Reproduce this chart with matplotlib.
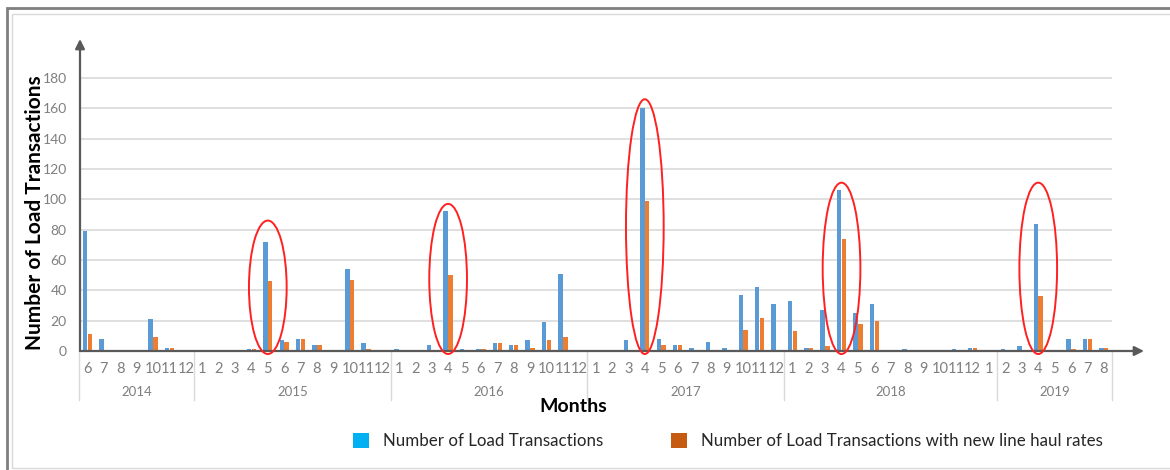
import matplotlib
matplotlib.use("Agg")
import matplotlib.pyplot as plt
from matplotlib.patches import Ellipse, Patch, Rectangle
import matplotlib.transforms as mtransforms
import numpy as np

# Monthly load counts, grouped by year
years = ["2014", "2015", "2016", "2017", "2018", "2019"]
year_months = [
    [6, 7, 8, 9, 10, 11, 12],
    [1, 2, 3, 4, 5, 6, 7, 8, 9, 10, 11, 12],
    [1, 2, 3, 4, 5, 6, 7, 8, 9, 10, 11, 12],
    [1, 2, 3, 4, 5, 6, 7, 8, 9, 10, 11, 12],
    [1, 2, 3, 4, 5, 6, 7, 8, 9, 10, 11, 12, 1],
    [2, 3, 4, 5, 6, 7, 8],
]
loads = [
    79, 8, 0, 0, 21, 2, 0,
    0, 0, 0, 1, 72, 7, 8, 4, 0, 54, 5, 0,
    1, 0, 4, 92, 1, 1, 5, 4, 7, 19, 51, 0,
    0, 0, 7, 160, 8, 4, 2, 6, 2, 37, 42, 31,
    33, 2, 27, 106, 25, 31, 0, 1, 0, 0, 1, 2, 0,
    1, 3, 84, 0, 8, 8, 2,
]
new_rates = [
    11, 0, 0, 0, 9, 2, 0,
    0, 0, 0, 1, 46, 6, 8, 4, 0, 47, 1, 0,
    0, 0, 0, 50, 0, 1, 5, 4, 2, 7, 9, 0,
    0, 0, 0, 99, 4, 4, 0, 0, 0, 14, 22, 0,
    13, 2, 3, 74, 18, 20, 0, 0, 0, 0, 0, 2, 0,
    0, 0, 36, 0, 1, 8, 2,
]
# highlighted months (year, month) and the top of each ring
highlights = [("2015", 5), ("2016", 4), ("2017", 4), ("2018", 4), ("2019", 4)]
ring_tops = [86, 97, 166, 111, 111]

W, H = 1170, 470
BLUE, ORANGE = "#5B9BD5", "#ED7D31"
GRAY = "#7F7F7F"
FONT = ["Lato", "DejaVu Sans"]
plt.rcParams["font.family"] = FONT

month_labels = [str(m) for grp in year_months for m in grp]
x = np.arange(len(month_labels))

fig = plt.figure(figsize=(W / 100, H / 100), dpi=100)
ax_left, ax_right = 79.3, 1112
ax_bottom, ax_top = 351, 351 - 200 * (273 / 180)
ax = fig.add_axes([ax_left / W, 1 - ax_bottom / H,
                   (ax_right - ax_left) / W, (ax_bottom - ax_top) / H])

bw = 0.27
ax.bar(x - 0.15, loads, width=bw, color=BLUE, zorder=3)
ax.bar(x + 0.15, new_rates, width=bw, color=ORANGE, zorder=3)

ax.set_xlim(-0.5, len(x) - 0.5)
ax.set_ylim(0, 200)
ax.set_yticks(range(0, 181, 20))
ax.yaxis.grid(True, color="#D9D9D9", linewidth=1.2, zorder=0)
ax.set_axisbelow(True)
for s in ax.spines.values():
    s.set_visible(False)
ax.tick_params(axis="y", length=0, pad=9, labelsize=10, labelcolor=GRAY)
ax.set_xticks(x)
ax.set_xticklabels(month_labels)
ax.tick_params(axis="x", length=0, pad=8, labelsize=10.5, labelcolor=GRAY)

# year grouping row with separators
ax_h = ax_bottom - ax_top
trans = mtransforms.blended_transform_factory(ax.transData, ax.transAxes)
start = 0
bounds = [-0.5]
for yr, grp in zip(years, year_months):
    end = start + len(grp)
    ax.text((start + end - 1) / 2, -41 / ax_h, yr, transform=trans,
            ha="center", va="center", fontsize=9.5, color=GRAY)
    bounds.append(end - 0.5)
    start = end
for b in bounds:
    ax.plot([b, b], [0, -49 / ax_h], transform=trans, color="#D9D9D9",
            linewidth=1, clip_on=False)

# red rings around the peak months
offsets = np.cumsum([0] + [len(g) for g in year_months])
for (yr, mo), top in zip(highlights, ring_tops):
    gi = years.index(yr)
    idx = offsets[gi] + year_months[gi].index(mo)
    ax.add_patch(Ellipse((idx, (top - 2) / 2), width=2.3, height=top + 2,
                         fill=False, edgecolor="#FF2020", linewidth=1.4,
                         zorder=4, clip_on=False))

# axis arrows
arrow = dict(arrowstyle="-|>", color="#595959", lw=1.6, mutation_scale=14,
             shrinkA=0, shrinkB=0)
ax.annotate("", xy=(80 / W, 1 - 39 / H), xytext=(80 / W, 1 - 351 / H),
            xycoords="figure fraction", arrowprops=arrow, annotation_clip=False)
ax.annotate("", xy=(1144 / W, 1 - 351 / H), xytext=(80 / W, 1 - 351 / H),
            xycoords="figure fraction", arrowprops=arrow, annotation_clip=False)

fig.text(35 / W, 1 - 213 / H, "Number of Load Transactions", rotation=90,
         ha="center", va="center", fontsize=15, fontweight="bold")
fig.text(573 / W, 1 - 407 / H, "Months", ha="center", va="center",
         fontsize=14, fontweight="bold")

handles = [Patch(facecolor="#00B0F0", label="Number of Load Transactions"),
           Patch(facecolor="#C55A11",
                 label="Number of Load Transactions with new line haul rates")]
fig.legend(handles=handles, loc="center", bbox_to_anchor=(728 / W, 1 - 441 / H),
           ncol=2, frameon=False, fontsize=12.2, handlelength=0.95,
           handleheight=0.95, handletextpad=0.8, columnspacing=4.0,
           labelcolor="#262626")

# chart border
fig.add_artist(Rectangle((7 / W, -0.1), 1.2, 1.1 - 8 / H, fill=False,
                         edgecolor="#7F7F7F", linewidth=2,
                         transform=fig.transFigure))
fig.add_artist(Rectangle((12 / W, 1 - 468 / H), 1.2, (468 - 14) / H, fill=False,
                         edgecolor="#D9D9D9", linewidth=1,
                         transform=fig.transFigure))

fig.savefig("out.png", dpi=100)
